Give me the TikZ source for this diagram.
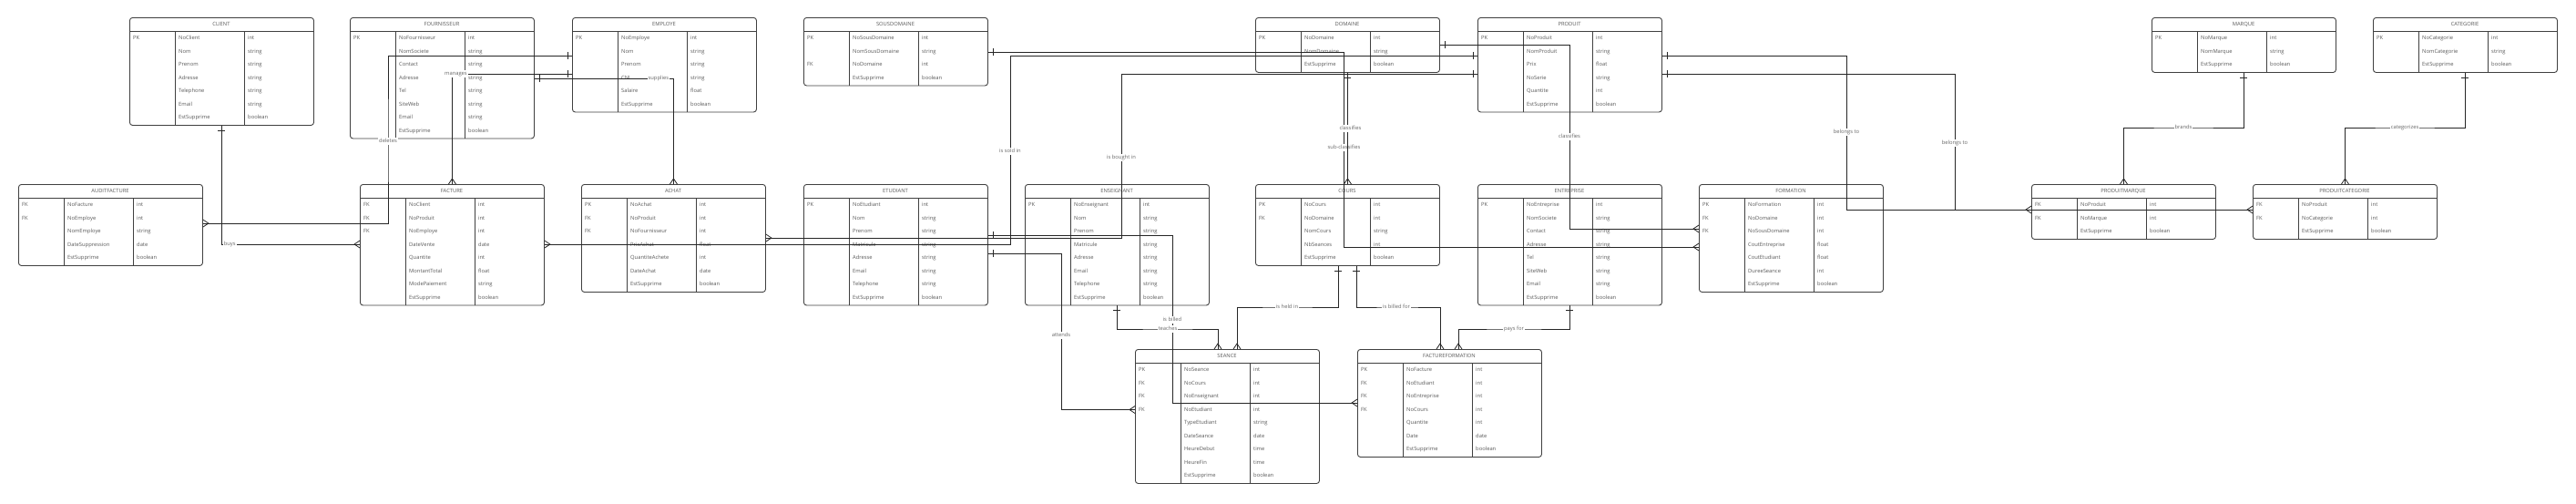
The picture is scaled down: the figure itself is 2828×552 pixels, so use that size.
\documentclass[tikz,border=0pt]{standalone}
\usepackage{fontspec}
\setmainfont{Open Sans}
\usetikzlibrary{arrows.meta}

% crow's foot notation tips
\pgfdeclarearrow{
  name = One,
  parameters = {\the\pgfarrowlength,\the\pgfarrowwidth},
  setup code = {
    \pgfarrowssettipend{0pt}
    \pgfarrowssetlineend{0pt}
    \pgfarrowssetbackend{-\pgfarrowlength}
    \pgfarrowssetvisualbackend{-\pgfarrowlength}
    \pgfarrowshullpoint{0pt}{0pt}
    \pgfarrowshullpoint{-\pgfarrowlength}{.5\pgfarrowwidth}
    \pgfarrowshullpoint{-\pgfarrowlength}{-.5\pgfarrowwidth}
    \pgfarrowssavethe\pgfarrowlength
    \pgfarrowssavethe\pgfarrowwidth
  },
  drawing code = {
    \pgfpathmoveto{\pgfqpoint{-\pgfarrowlength}{.5\pgfarrowwidth}}
    \pgfpathlineto{\pgfqpoint{-\pgfarrowlength}{-.5\pgfarrowwidth}}
    \pgfusepathqstroke
  },
  defaults = {length=5pt, width=8pt}
}
\pgfdeclarearrow{
  name = Crow,
  parameters = {\the\pgfarrowlength,\the\pgfarrowwidth},
  setup code = {
    \pgfarrowssettipend{0pt}
    \pgfarrowssetlineend{0pt}
    \pgfarrowssetbackend{-\pgfarrowlength}
    \pgfarrowssetvisualbackend{-\pgfarrowlength}
    \pgfarrowshullpoint{0pt}{.5\pgfarrowwidth}
    \pgfarrowshullpoint{0pt}{-.5\pgfarrowwidth}
    \pgfarrowshullpoint{-\pgfarrowlength}{0pt}
    \pgfarrowssavethe\pgfarrowlength
    \pgfarrowssavethe\pgfarrowwidth
  },
  drawing code = {
    \pgfpathmoveto{\pgfqpoint{0pt}{.5\pgfarrowwidth}}
    \pgfpathlineto{\pgfqpoint{-\pgfarrowlength}{0pt}}
    \pgfpathlineto{\pgfqpoint{0pt}{-.5\pgfarrowwidth}}
    \pgfusepathqstroke
  },
  defaults = {length=6pt, width=8pt}
}

\newcommand{\tabfont}{\fontsize{5.8pt}{7pt}\selectfont}

% one table: name, left x, top y, title, number of rows, rows key/field/type
\newcommand{\ertable}[6]{%
  \pgfmathsetmacro{\erh}{15+14.5*#5+1.5}
  \node[tablebox, minimum height=\erh pt, anchor=north west] (#1) at (#2,#3) {};
  \draw[tabline] (#2,#3+15) -- ++(202,0);
  \draw[tabline] (#2+50,#3+15) -- (#2+50,#3+\erh);
  \draw[tabline] (#2+126,#3+15) -- (#2+126,#3+\erh);
  \node[tabtitle] (#1-title) at (#2+101,#3+7.5) {#4};
  \foreach \ky/\fd/\ty [count=\i] in {#6} {
    \node[cell] (#1-k\i) at (#2+4,#3+8.5+14.5*\i) {\ky};
    \node[cell] (#1-f\i) at (#2+54,#3+8.5+14.5*\i) {\fd};
    \node[cell] (#1-t\i) at (#2+130,#3+8.5+14.5*\i) {\ty};
  }
}

\tikzset{
  tablebox/.style={draw=black!75, line width=0.9pt, rounded corners=3pt,
    minimum width=202pt, inner sep=0pt},
  tabline/.style={draw=black!75, line width=0.9pt},
  tabtitle/.style={inner sep=0pt, font=\tabfont, text=black!65,
    text height=4.4pt, text depth=1.3pt},
  cell/.style={anchor=west, inner sep=0pt, font=\tabfont, text=black!65,
    text height=4.4pt, text depth=1.3pt},
  erline/.style={draw=black!85, line width=0.8pt},
  onemany/.style={erline, {One}-{Crow}},
  lbl/.style={fill=white, inner sep=1pt, font=\tabfont, text=black!60,
    text height=4.4pt, text depth=1.3pt},
}

\begin{document}
\begin{tikzpicture}[x=1pt, y=-1pt]
\fill[white] (0,0) rectangle (2828,552);
\useasboundingbox (0,0) rectangle (2828,552);

% top row
\ertable{client}{142}{19}{CLIENT}{7}{PK/NoClient/int, /Nom/string, /Prenom/string,
  /Adresse/string, /Telephone/string, /Email/string, /EstSupprime/boolean}
\ertable{fournisseur}{384}{19}{FOURNISSEUR}{8}{PK/NoFournisseur/int, /NomSociete/string,
  /Contact/string, /Adresse/string, /Tel/string, /SiteWeb/string, /Email/string,
  /EstSupprime/boolean}
\ertable{employe}{628}{19}{EMPLOYE}{6}{PK/NoEmploye/int, /Nom/string, /Prenom/string,
  /CNI/string, /Salaire/float, /EstSupprime/boolean}
\ertable{sousdomaine}{882}{19}{SOUSDOMAINE}{4}{PK/NoSousDomaine/int,
  /NomSousDomaine/string, FK/NoDomaine/int, /EstSupprime/boolean}
\ertable{domaine}{1378}{19}{DOMAINE}{3}{PK/NoDomaine/int, /NomDomaine/string,
  /EstSupprime/boolean}
\ertable{produit}{1622}{19}{PRODUIT}{6}{PK/NoProduit/int, /NomProduit/string,
  /Prix/float, /NoSerie/string, /Quantite/int, /EstSupprime/boolean}
\ertable{marque}{2362}{19}{MARQUE}{3}{PK/NoMarque/int, /NomMarque/string,
  /EstSupprime/boolean}
\ertable{categorie}{2605}{19}{CATEGORIE}{3}{PK/NoCategorie/int, /NomCategorie/string,
  /EstSupprime/boolean}

% middle row
\ertable{auditfacture}{20}{202}{AUDITFACTURE}{5}{FK/NoFacture/int, FK/NoEmploye/int,
  /NomEmploye/string, /DateSuppression/date, /EstSupprime/boolean}
\ertable{facture}{395}{202}{FACTURE}{8}{FK/NoClient/int, FK/NoProduit/int,
  FK/NoEmploye/int, /DateVente/date, /Quantite/int, /MontantTotal/float,
  /ModePaiement/string, /EstSupprime/boolean}
\ertable{achat}{638}{202}{ACHAT}{7}{PK/NoAchat/int, FK/NoProduit/int,
  FK/NoFournisseur/int, /PrixAchat/float, /QuantiteAchete/int, /DateAchat/date,
  /EstSupprime/boolean}
\ertable{etudiant}{882}{202}{ETUDIANT}{8}{PK/NoEtudiant/int, /Nom/string,
  /Prenom/string, /Matricule/string, /Adresse/string, /Email/string,
  /Telephone/string, /EstSupprime/boolean}
\ertable{enseignant}{1125}{202}{ENSEIGNANT}{8}{PK/NoEnseignant/int, /Nom/string,
  /Prenom/string, /Matricule/string, /Adresse/string, /Email/string,
  /Telephone/string, /EstSupprime/boolean}
\ertable{cours}{1378}{202}{COURS}{5}{PK/NoCours/int, FK/NoDomaine/int,
  /NomCours/string, /NbSeances/int, /EstSupprime/boolean}
\ertable{entreprise}{1622}{202}{ENTREPRISE}{8}{PK/NoEntreprise/int, /NomSociete/string,
  /Contact/string, /Adresse/string, /Tel/string, /SiteWeb/string, /Email/string,
  /EstSupprime/boolean}
\ertable{formation}{1865}{202}{FORMATION}{7}{PK/NoFormation/int, FK/NoDomaine/int,
  FK/NoSousDomaine/int, /CoutEntreprise/float, /CoutEtudiant/float,
  /DureeSeance/int, /EstSupprime/boolean}
\ertable{produitmarque}{2230}{202}{PRODUITMARQUE}{3}{FK/NoProduit/int,
  FK/NoMarque/int, /EstSupprime/boolean}
\ertable{produitcategorie}{2473}{202}{PRODUITCATEGORIE}{3}{FK/NoProduit/int,
  FK/NoCategorie/int, /EstSupprime/boolean}

% bottom row
\ertable{seance}{1246}{383}{SEANCE}{9}{PK/NoSeance/int, FK/NoCours/int,
  FK/NoEnseignant/int, FK/NoEtudiant/int, /TypeEtudiant/string, /DateSeance/date,
  /HeureDebut/time, /HeureFin/time, /EstSupprime/boolean}
\ertable{facturef}{1490}{383}{FACTUREFORMATION}{7}{PK/NoFacture/int,
  FK/NoEtudiant/int, FK/NoEntreprise/int, FK/NoCours/int, /Quantite/int,
  /Date/date, /EstSupprime/boolean}

% relations, drawn from the "one" side
\draw[onemany] (client.south) |- (facture.west |- 0,268)
  node[lbl, pos=0.5, anchor=west, xshift=1pt] (lbuys) {buys};
\draw[onemany] (employe.west |- 0,61) -| (426,155) node[lbl] (ldel) {deletes}
  |- (auditfacture.east |- 0,245);
\draw[onemany] (employe.west |- 0,81) -| (facture.north)
  node[lbl, pos=0.5, xshift=4pt] (lman) {manages};
\draw[onemany] (fournisseur.east |- 0,86) -| (achat.north)
  node[lbl, pos=0.5, anchor=east, xshift=-4pt] (lsup) {supplies};
\draw[onemany] (produit.west |- 0,61) -| (1109,166) node[lbl] (lsold) {is sold in}
  |- (facture.east |- 0,268);
\draw[onemany] (produit.west |- 0,81) -| (1231,173) node[lbl] (lbought) {is bought in}
  |- (achat.east |- 0,261);

% domains
\draw[onemany] (sousdomaine.east |- 0,57) -| (1475.5,162) node[lbl] (lsub) {sub-classifies}
  |- (formation.west |- 0,271);
\draw[onemany] (domaine.south) -- (cours.north)
  node[lbl, pos=0.5, xshift=3pt] (lcl1) {classifies};
\draw[onemany] (domaine.east |- 0,49) -| (1723,150) node[lbl] (lcl2) {classifies}
  |- (formation.west |- 0,251);

% training
\draw[onemany] (etudiant.east |- 0,278) -| (1165,368) node[lbl] (latt) {attends}
  |- (seance.west |- 0,449.5);
\draw[onemany] (etudiant.east |- 0,258) -| (1287,351) node[lbl] (lbill) {is billed}
  |- (facturef.west |- 0,442);
\draw[onemany] (enseignant.south) |- (1282,361) node[lbl] (lteach) {teaches}
  -| (seance.north -| 1337,0);
\draw[onemany] (cours.south -| 1469,0) |- (1413,337) node[lbl] (lheld) {is held in}
  -| (seance.north -| 1358,0);
\draw[onemany] (cours.south -| 1489,0) |- (1533,337) node[lbl] (lbfor) {is billed for}
  -| (facturef.north -| 1581,0);
\draw[onemany] (entreprise.south) |- (1662,361) node[lbl] (lpay) {pays for}
  -| (facturef.north -| 1601,0);

% products
\draw[onemany] (produit.east |- 0,61) -| (2027,145) node[lbl] (lpm) {belongs to}
  |- (produitmarque.west |- 0,230);
\draw[onemany] (produit.east |- 0,81) -| (2146,157) node[lbl] (lpc) {belongs to}
  |- (produitcategorie.west |- 0,230);
\draw[onemany] (marque.south) |- (2397,140) node[lbl] (lbrand) {brands}
  -| (produitmarque.north);
\draw[onemany] (categorie.south) |- (2640,140) node[lbl] (lcat) {categorizes}
  -| (produitcategorie.north);

\end{tikzpicture}
\end{document}
